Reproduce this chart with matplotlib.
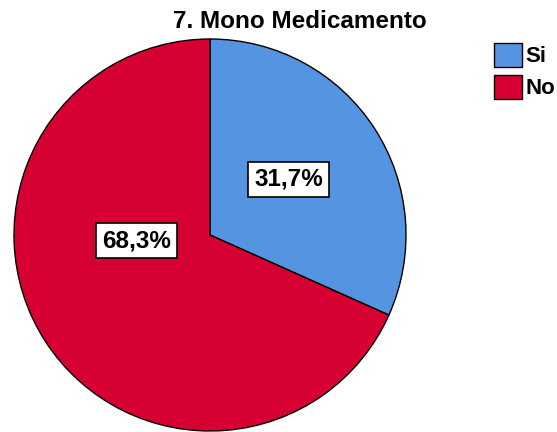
import matplotlib.pyplot as plt

# Data
categories = ['Si', 'No']
percentages = [31.7, 68.3]
colors = ['#5594e0', '#d60032']

plt.rcParams['font.family'] = ['Liberation Sans', 'DejaVu Sans']

W, H = 557, 432
fig = plt.figure(figsize=(W / 100, H / 100), dpi=100)

# pie centre and radius in pixels
cx, cy, r = 210, 235, 196
ax = fig.add_axes([(cx - r) / W, (H - cy - r) / H, 2 * r / W, 2 * r / H])

wedges, texts = ax.pie(percentages, colors=colors, startangle=90, counterclock=False,
                       wedgeprops={'edgecolor': 'black', 'linewidth': 1})
ax.set_xlim(-1, 1)
ax.set_ylim(-1, 1)

# label positions (SPSS style, relative to radius)
label_pos = [(0.40, 0.285), (-0.375, -0.03)]
for p, (x, y) in zip(percentages, label_pos):
    ax.text(x, y, f'{p:.1f}%'.replace('.', ','), ha='center', va='center',
            fontsize=17.5, fontweight='bold',
            bbox=dict(boxstyle='square,pad=0.25', facecolor='white', edgecolor='black', linewidth=1.2))

fig.text(300 / W, 1 - 21 / H, '7. Mono Medicamento', ha='center', va='center',
         fontsize=17.5, fontweight='bold')

leg = fig.legend(wedges, categories, loc='upper left', bbox_to_anchor=(494 / W, 1 - 43 / H),
                 frameon=False, prop={'size': 16, 'weight': 'bold'},
                 handlelength=1.25, handleheight=1.25,
                 handletextpad=0.15, labelspacing=0.35, borderpad=0, borderaxespad=0)

fig.savefig('out.png', dpi=100)
